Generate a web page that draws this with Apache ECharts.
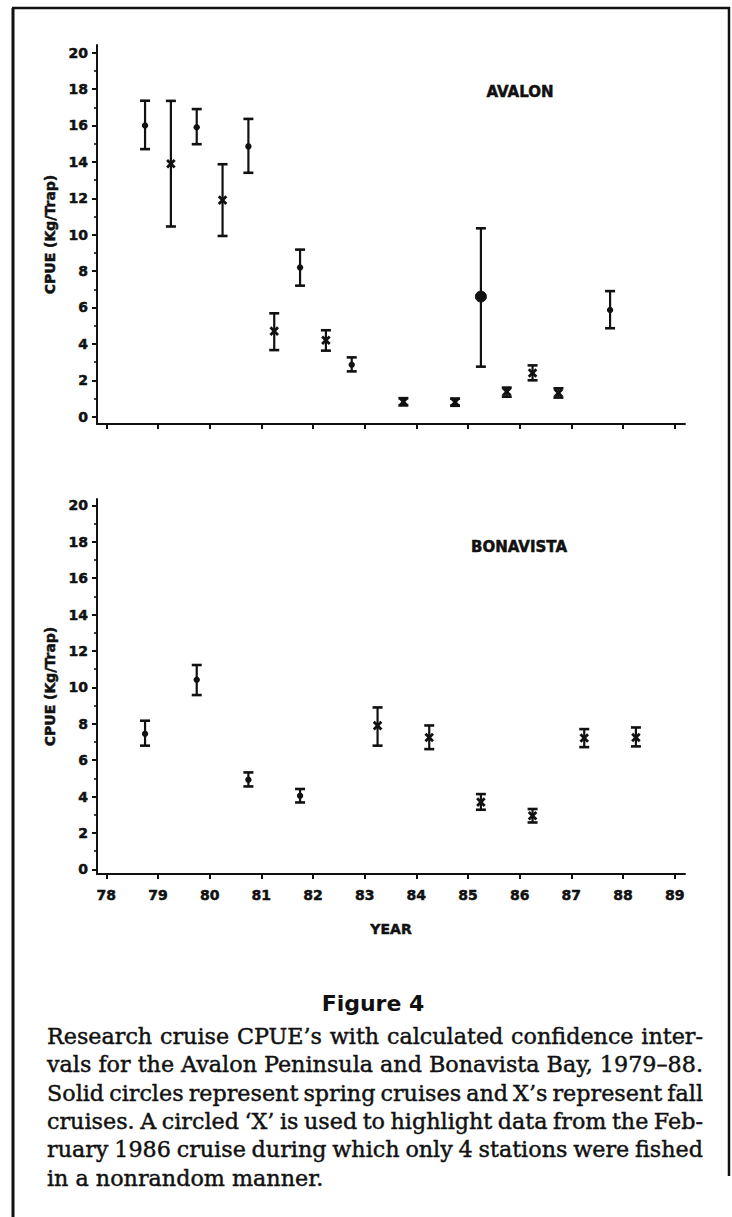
<!DOCTYPE html>
<html>
<head>
<meta charset="utf-8">
<script src="https://cdn.jsdelivr.net/npm/echarts@6/dist/echarts.min.js"></script>
<style>
  html, body { margin: 0; padding: 0; background: #fff; }
  #chart { width: 732px; height: 1217px; }
</style>
</head>
<body>
<div id="chart"></div>
<script>
// ---- data ----
const yearTicks = [78, 79, 80, 81, 82, 83, 84, 85, 86, 87, 88, 89];
const cpueTicks = [0, 2, 4, 6, 8, 10, 12, 14, 16, 18, 20];
const cpueMinorTicks = [1, 3, 5, 7, 9, 11, 13, 15, 17, 19];

// AVALON  (type: S = spring circle, F = fall X, C = circled X)
const avalonYear = [78.75, 79.25, 79.75, 80.25, 80.75, 81.25, 81.75, 82.25, 82.75, 83.75, 84.75, 85.25, 85.75, 86.25, 86.75, 87.75];
const avalonCPUE = [16.0, 13.9, 15.9, 11.9, 14.85, 4.7, 8.2, 4.2, 2.85, 0.82, 0.8, 6.6, 1.37, 2.4, 1.3, 5.86];
const avalonLow  = [14.7, 10.45, 14.97, 9.93, 13.4, 3.66, 7.2, 3.63, 2.49, 0.62, 0.6, 2.75, 1.1, 2.0, 1.05, 4.86];
const avalonHigh = [17.36, 17.35, 16.9, 13.87, 16.36, 5.68, 9.18, 4.75, 3.26, 1.02, 1.0, 10.35, 1.6, 2.82, 1.56, 6.9];
const avalonType = ['S', 'F', 'S', 'F', 'S', 'F', 'S', 'F', 'S', 'F', 'F', 'C', 'F', 'F', 'F', 'S'];

// BONAVISTA
const bonaYear = [78.75, 79.75, 80.75, 81.75, 83.25, 84.25, 85.25, 86.25, 87.25, 88.25];
const bonaCPUE = [7.45, 10.42, 4.93, 4.05, 7.9, 7.25, 3.7, 2.95, 7.22, 7.25];
const bonaLow  = [6.8, 9.58, 4.56, 3.68, 6.8, 6.61, 3.28, 2.58, 6.72, 6.76];
const bonaHigh = [8.17, 11.23, 5.33, 4.42, 8.9, 7.91, 4.14, 3.32, 7.71, 7.8];
const bonaType = ['S', 'S', 'S', 'S', 'F', 'F', 'F', 'F', 'F', 'F'];

const captionLines = [
  'Research cruise CPUE\u2019s with calculated confidence inter-',
  'vals for the Avalon Peninsula and Bonavista Bay, 1979\u201388.',
  'Solid circles represent spring cruises and X\u2019s represent fall',
  'cruises. A circled \u2018X\u2019 is used to highlight data from the Feb-',
  'ruary 1986 cruise during which only 4 stations were fished',
  'in a nonrandom manner.'
];

// ---- build ----
const typeCode = { S: 0, F: 1, C: 2 };
function rows(yr, v, lo, hi, ty) {
  return yr.map((y, i) => [y, v[i], lo[i], hi[i], typeCode[ty[i]]]);
}

const INK = '#111';
const AXFONT = 'DejaVu Sans';

function renderErr(params, api) {
  const x = api.value(0), v = api.value(1), lo = api.value(2), hi = api.value(3), t = api.value(4);
  const pc = api.coord([x, v]);
  const pl = api.coord([x, lo]);
  const ph = api.coord([x, hi]);
  const cw = 5;
  const children = [
    { type: 'line', shape: { x1: pc[0], y1: pl[1], x2: pc[0], y2: ph[1] }, style: { stroke: INK, lineWidth: 2.2 } },
    { type: 'line', shape: { x1: pc[0] - cw, y1: ph[1], x2: pc[0] + cw, y2: ph[1] }, style: { stroke: INK, lineWidth: 2.6 } },
    { type: 'line', shape: { x1: pc[0] - cw, y1: pl[1], x2: pc[0] + cw, y2: pl[1] }, style: { stroke: INK, lineWidth: 2.6 } }
  ];
  if (t === 0) {
    children.push({ type: 'circle', shape: { cx: pc[0], cy: pc[1], r: 3.2 }, style: { fill: INK } });
  } else if (t === 1) {
    const d = 3.8;
    children.push({ type: 'line', shape: { x1: pc[0] - d, y1: pc[1] - d, x2: pc[0] + d, y2: pc[1] + d }, style: { stroke: INK, lineWidth: 2.8 } });
    children.push({ type: 'line', shape: { x1: pc[0] - d, y1: pc[1] + d, x2: pc[0] + d, y2: pc[1] - d }, style: { stroke: INK, lineWidth: 2.8 } });
  } else {
    children.push({ type: 'circle', shape: { cx: pc[0], cy: pc[1], r: 5.5 }, style: { fill: INK, stroke: INK, lineWidth: 1 } });
  }
  return { type: 'group', children: children };
}

const labelStyle = { color: INK, fontFamily: AXFONT, fontWeight: 'bold', fontSize: 14,
                     textBorderColor: INK, textBorderWidth: 0.5 };

function xAxisDef(gridIndex, showLabels, withName) {
  return {
    type: 'value', gridIndex: gridIndex, min: 77.82, max: 89.2,
    position: 'bottom',
    axisLine: { show: true, onZero: false, lineStyle: { color: INK, width: 2 } },
    axisTick: { show: true, inside: false, length: 5, customValues: yearTicks, lineStyle: { color: INK, width: 2 } },
    axisLabel: Object.assign({ show: showLabels, customValues: yearTicks, margin: 14 }, labelStyle),
    splitLine: { show: false },
    name: withName ? 'YEAR' : '', nameLocation: 'middle', nameGap: 48,
    nameTextStyle: Object.assign({}, labelStyle)
  };
}
function yAxisMain(gridIndex, min, max) {
  return {
    type: 'value', gridIndex: gridIndex, min: min, max: max, position: 'left',
    axisLine: { show: true, onZero: false, lineStyle: { color: INK, width: 2 } },
    axisTick: { show: true, inside: false, length: 5, customValues: cpueTicks, lineStyle: { color: INK, width: 2 } },
    axisLabel: Object.assign({ show: true, customValues: cpueTicks, margin: 9 }, labelStyle),
    splitLine: { show: false },
    name: 'CPUE (Kg/Trap)', nameLocation: 'middle', nameGap: 36, nameRotate: 90,
    nameTextStyle: Object.assign({}, labelStyle)
  };
}
function yAxisMinor(gridIndex, min, max) {
  return {
    type: 'value', gridIndex: gridIndex, min: min, max: max, position: 'left',
    axisLine: { show: false },
    axisTick: { show: true, inside: false, length: 3, customValues: cpueMinorTicks, lineStyle: { color: INK, width: 1.6 } },
    axisLabel: { show: false },
    splitLine: { show: false }
  };
}

// caption: justified lines (last line left aligned)
const CAP_LEFT = 47, CAP_RIGHT = 703, CAP_TOP = 1025, CAP_LH = 28.3;
const measureCtx = document.createElement('canvas').getContext('2d');
let capSize = 22.5;
function fontOf(s) { return s + 'px "DejaVu Serif"'; }
// shrink until every justified line keeps at least a small word gap
for (; capSize > 18; capSize -= 0.25) {
  measureCtx.font = fontOf(capSize);
  const ok = captionLines.slice(0, -1).every(line => {
    const words = line.split(' ');
    const total = words.reduce((a, w) => a + measureCtx.measureText(w).width, 0);
    return (CAP_RIGHT - CAP_LEFT - total) / (words.length - 1) >= 4.5;
  });
  if (ok) break;
}
const CAP_FONT = fontOf(capSize);
measureCtx.font = CAP_FONT;
const captionGraphics = [];
captionLines.forEach((line, i) => {
  const top = CAP_TOP + i * CAP_LH;
  const capStyle = { fill: INK, font: CAP_FONT, stroke: INK, lineWidth: 0.45 };
  if (i === captionLines.length - 1) {
    captionGraphics.push({ type: 'text', x: CAP_LEFT, y: top, style: Object.assign({ text: line }, capStyle) });
    return;
  }
  const words = line.split(' ');
  const widths = words.map(w => measureCtx.measureText(w).width);
  const total = widths.reduce((a, b) => a + b, 0);
  const gap = (CAP_RIGHT - CAP_LEFT - total) / (words.length - 1);
  let x = CAP_LEFT;
  words.forEach((w, k) => {
    captionGraphics.push({ type: 'text', x: x, y: top, style: Object.assign({ text: w }, capStyle) });
    x += widths[k] + gap;
  });
});

const option = {
  backgroundColor: '#fff',
  animation: false,
  grid: [
    { left: 97, top: 45, width: 588, height: 379 },
    { left: 97, top: 499, width: 588, height: 375 }
  ],
  xAxis: [xAxisDef(0, false, false), xAxisDef(1, true, true)],
  yAxis: [yAxisMain(0, -0.4, 20.42), yAxisMinor(0, -0.4, 20.42), yAxisMain(1, -0.25, 20.35), yAxisMinor(1, -0.25, 20.35)],
  series: [
    { type: 'custom', name: 'AVALON', xAxisIndex: 0, yAxisIndex: 0, renderItem: renderErr,
      encode: { x: 0, y: [1, 2, 3] }, data: rows(avalonYear, avalonCPUE, avalonLow, avalonHigh, avalonType) },
    { type: 'custom', name: 'BONAVISTA', xAxisIndex: 1, yAxisIndex: 2, renderItem: renderErr,
      encode: { x: 0, y: [1, 2, 3] }, data: rows(bonaYear, bonaCPUE, bonaLow, bonaHigh, bonaType) }
  ],
  graphic: [
    { type: 'line', shape: { x1: 13, y1: 8, x2: 13, y2: 1217 }, style: { stroke: INK, lineWidth: 3 } },
    { type: 'line', shape: { x1: 12, y1: 8, x2: 730, y2: 8 }, style: { stroke: INK, lineWidth: 2.5 } },
    { type: 'line', shape: { x1: 729, y1: 7, x2: 729, y2: 1176 }, style: { stroke: INK, lineWidth: 2.5 } },
    { type: 'text', x: 520, y: 92, style: { text: 'AVALON', fill: INK, font: 'bold 15px "DejaVu Sans"', textAlign: 'center', textVerticalAlign: 'middle', stroke: INK, lineWidth: 0.5 } },
    { type: 'text', x: 519, y: 547, style: { text: 'BONAVISTA', fill: INK, font: 'bold 15px "DejaVu Sans"', textAlign: 'center', textVerticalAlign: 'middle', stroke: INK, lineWidth: 0.5 } },
    { type: 'text', x: 373, y: 1003, style: { text: 'Figure 4', fill: INK, font: 'bold 22px "DejaVu Sans"', textAlign: 'center', textVerticalAlign: 'middle' } }
  ].concat(captionGraphics)
};

const chart = echarts.init(document.getElementById('chart'), null, { renderer: 'svg' });
chart.setOption(option);
</script>
</body>
</html>
